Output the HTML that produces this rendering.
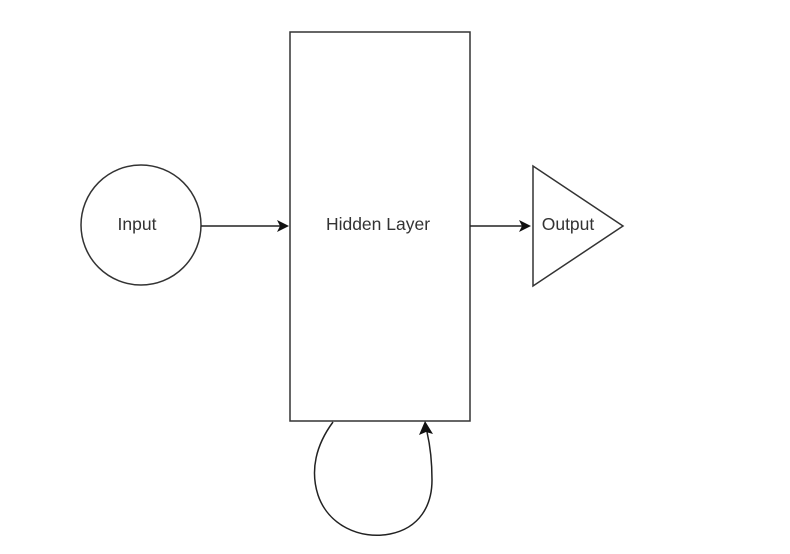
<!DOCTYPE html>
<html><head><style>body{margin:0;background:#fff}</style></head><body>
<svg width="790" height="549" xmlns="http://www.w3.org/2000/svg" font-family="Liberation Sans, sans-serif" font-size="17.5" fill="none">
<rect x="290" y="32" width="180" height="389" stroke="#333" stroke-width="1.5" fill="#fff"/>
<circle cx="141" cy="225" r="60" stroke="#333" stroke-width="1.5" fill="#fff"/>
<polygon points="533,166 533,286 623,226" stroke="#333" stroke-width="1.5" fill="#fff"/>
<line x1="201" y1="226" x2="280" y2="226" stroke="#222" stroke-width="1.5"/>
<polygon points="289,226 277,220 280,226 277,232" fill="#111"/>
<line x1="470" y1="226" x2="522" y2="226" stroke="#222" stroke-width="1.5"/>
<polygon points="531,226 519,220 522,226 519,232" fill="#111"/>
<path d="M333,422 C316,445 310,470 318,495 C328,525 360,540 390,534 C420,528 432,505 432,480 C432,460 430,445 427,432" stroke="#222" stroke-width="1.5"/>
<polygon points="425,421 419,435 426,432 433,434" fill="#111"/>
<text x="137" y="230" text-anchor="middle" fill="#333">Input</text>
<text x="378" y="230" text-anchor="middle" fill="#333">Hidden Layer</text>
<text x="568" y="230" text-anchor="middle" fill="#333">Output</text>
</svg>
</body></html>
